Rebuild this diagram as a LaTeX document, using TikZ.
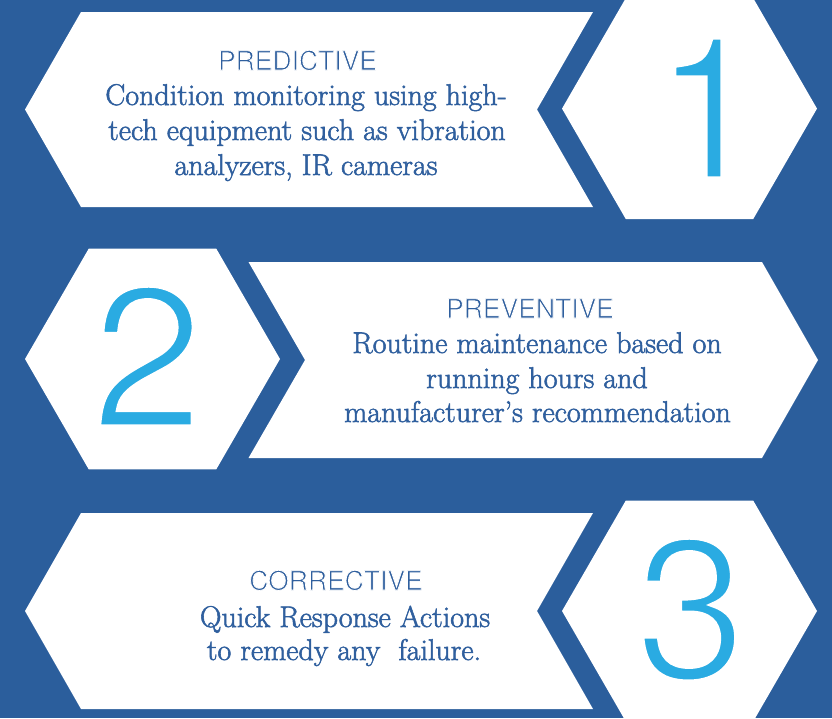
\documentclass[tikz,border=0pt]{standalone}
\usepackage{fontspec}
\setmainfont{Latin Modern Roman}
\newfontfamily\herosfont{TeX Gyre Heros}
\definecolor{bgblue}{HTML}{2B5E9C}
\definecolor{txtblue}{HTML}{2F5F9E}
\definecolor{digblue}{HTML}{2AABE2}
\newcommand{\thindigit}[1]{\special{pdf:literal direct 2 Tr 5 w 1 1 1 RG}#1\special{pdf:literal direct 0 Tr 1 w}}
\newcommand{\thintitle}[1]{\special{pdf:literal direct 2 Tr 0.8 w 1 1 1 RG}#1\special{pdf:literal direct 0 Tr 1 w}}
\newcommand{\heavybody}[1]{\special{pdf:literal direct 2 Tr 0.55 w 0.184 0.373 0.620 RG}#1\special{pdf:literal direct 0 Tr 1 w}}
\tikzset{
  panel/.style={fill=white},
  titletext/.style={anchor=base, inner sep=0pt, text=txtblue, font=\herosfont\fontsize{26.5}{30}\selectfont},
  bodytext/.style={anchor=base, inner sep=0pt, text=txtblue, font=\fontsize{30}{35}\selectfont},
  digit/.style={anchor=base, inner sep=0pt, text height=145pt, text depth=0pt, text=digblue, font=\herosfont\fontsize{200}{200}\selectfont}
}
\begin{document}
\begin{tikzpicture}[x=1pt,y=-1pt]
\useasboundingbox (0,0) rectangle (832,718);
\fill[bgblue] (0,0) rectangle (832,718);
% row 1
\fill[panel] (81,12) -- (593,12) -- (537,109.5) -- (593,207) -- (81,207) -- (25,109.5) -- cycle;
\fill[panel] (562,108.6) -- (625.75,-1.8) -- (753.25,-1.8) -- (817,108.6) -- (753.25,219) -- (625.75,219) -- cycle;
% row 2
\fill[panel] (25,359) -- (88.75,248.6) -- (216.25,248.6) -- (280,359) -- (216.25,469.4) -- (88.75,469.4) -- cycle;
\fill[panel] (248.5,262) -- (762,262) -- (818,360) -- (762,458) -- (248.5,458) -- (305,360) -- cycle;
% row 3
\fill[panel] (81,513) -- (593,513) -- (537,611) -- (593,709) -- (81,709) -- (25,611) -- cycle;
\fill[panel] (562,611) -- (625.75,500.6) -- (753.25,500.6) -- (817,611) -- (753.25,721.4) -- (625.75,721.4) -- cycle;
% digits
\node[digit] (d1) at (709,179) {\thindigit{1}};
\node[digit] (d2) at (147.5,427) {\thindigit{2}};
\node[digit] (d3) at (691,679) {\thindigit{3}};
% texts row 1
\node[titletext] (t1) at (297.5,70) {\thintitle{PREDICTIVE}};
\node[bodytext] (b1a) at (306,105) {\heavybody{Condition monitoring using high-}};
\node[bodytext] (b1b) at (307,140) {\heavybody{tech equipment such as vibration}};
\node[bodytext] (b1c) at (306,175) {\heavybody{analyzers, IR cameras}};
% texts row 2
\node[titletext] (t2) at (530,318) {\thintitle{PREVENTIVE}};
\node[bodytext] (b2a) at (537,353) {\heavybody{Routine maintenance based on}};
\node[bodytext] (b2b) at (537,388) {\heavybody{running hours and}};
\node[bodytext] (b2c) at (537.5,422) {\heavybody{manufacturer’s recommendation}};
% texts row 3
\node[titletext] (t3) at (336,590) {\thintitle{CORRECTIVE}};
\node[bodytext] (b3a) at (345,627) {\heavybody{Quick Response Actions}};
\node[bodytext] (b3b) at (344,660) {\heavybody{to remedy any\ \ failure.}};
\end{tikzpicture}
\end{document}
